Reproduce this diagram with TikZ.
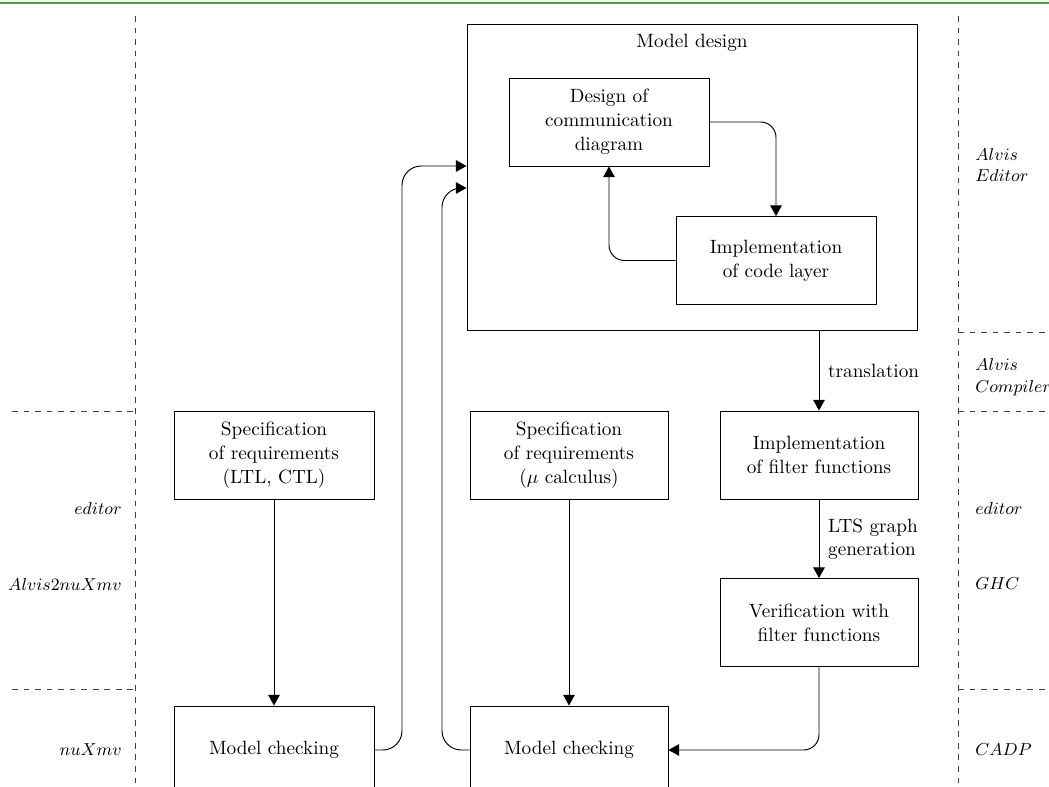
\documentclass[tikz,border=0pt]{standalone}
\usetikzlibrary{arrows.meta}
\newcommand\pxlen{0.52pt}
\definecolor{rulegreen}{RGB}{78,156,64}
\begin{document}
\begin{tikzpicture}[x=0.52pt,y=-0.52pt,
  box/.style={draw, line width=0.5pt, minimum width=200*\pxlen,
    minimum height=88*\pxlen, align=center, inner sep=0pt,
    font=\linespread{1.04}\selectfont},
  bigbox/.style={draw, line width=0.5pt, inner sep=0pt},
  arr/.style={-{Triangle[length=5.5pt,width=6pt]}, line width=0.5pt},
  lane/.style={dashed, line width=0.5pt, black!75},
  tool/.style={inner sep=0pt, align=left, font=\fontsize{9.3pt}{11.3pt}\selectfont},
  lbl/.style={inner sep=0pt, align=left}
]
\useasboundingbox (0,0) rectangle (1049,787);
\clip (0,0) rectangle (1049,787);

% top rule
\draw[rulegreen, line width=1.1pt] (0,3) -- (1049,3);

% swimlane borders
\draw[lane] (135,16) -- (135,800);
\draw[lane] (12,411) -- (135,411);
\draw[lane] (12,689) -- (135,689);
\draw[lane] (958,16) -- (958,800);
\draw[lane] (958,332) -- (1060,332);
\draw[lane] (958,411) -- (1060,411);
\draw[lane] (958,689) -- (1060,689);

% tool names
\node[tool, anchor=east] (tedl) at (122,508) {$editor$};
\node[tool, anchor=east] (ta2n) at (122,584) {$Alvis2nuXmv$};
\node[tool, anchor=east] (tnux) at (122,750) {$nuXmv$};
\node[tool, anchor=west] (tae) at (975,165) {$Alvis$\\$Editor$};
\node[tool, anchor=west] (tac) at (975,377) {$Alvis$\\$Compiler$};
\node[tool, anchor=west] (tedr) at (975,508) {$editor$};
\node[tool, anchor=west] (tghc) at (975,584) {$GHC$};
\node[tool, anchor=west] (tcadp) at (975,750) {$CADP$};

% model design group
\node[bigbox, minimum width=450*\pxlen, minimum height=306*\pxlen] (md) at (692,177) {};
\node[inner sep=0pt] (mdt) at (692,43) {Model design};
\node[box] (dcd) at (609,122) {Design of\\communication\\diagram};
\node[box] (icl) at (776,260.5) {Implementation\\of code layer};

% filter functions
\node[box, minimum width=198*\pxlen] (iff) at (819,455) {Implementation\\of filter functions};
\node[box, minimum width=198*\pxlen] (vff) at (819,622.5) {Verification with\\filter functions};

% requirements and model checking
\node[box] (srl) at (274,455) {Specification\\of requirements\\(LTL, CTL)};
\node[box, minimum width=198*\pxlen] (srm) at (569,455) {Specification\\of requirements\\($\mu$ calculus)};
\node[box] (mc1) at (274,750) {Model checking};
\node[box, minimum width=198*\pxlen] (mc2) at (569,750) {Model checking};

% connectors
\draw[arr, rounded corners=8] (dcd.east) -| (icl.north);
\draw[arr, rounded corners=8] (icl.west) -| (dcd.south);
\draw[arr] (iff.north |- md.south) -- node[lbl, anchor=west, xshift=4.5] (ttr) {translation} (iff.north);
\draw[arr] (iff.south) -- node[lbl, anchor=west, xshift=4.5, align=left] (tlts) {LTS graph\\generation} (vff.north);
\draw[arr, rounded corners=8] (vff.south) |- (mc2.east);
\draw[arr] (srl.south) -- (mc1.north);
\draw[arr] (srm.south) -- (mc2.north);
\coordinate (j1) at (402,166);
\coordinate (j2) at (442,188);
\draw[arr, rounded corners=10] (mc1.east) -| (j1) -- (md.west |- j1);
\draw[arr, rounded corners=10] (mc2.west) -| (j2) -- (md.west |- j2);
\end{tikzpicture}
\end{document}
